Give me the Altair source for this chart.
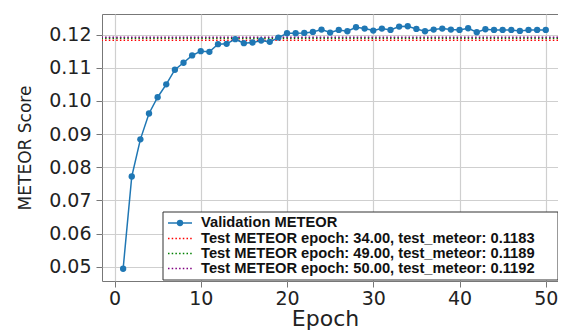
import altair as alt
import pandas as pd

epochs = list(range(1, 51))
val_meteor = [0.0494, 0.0772, 0.0884, 0.0962, 0.1011, 0.1050, 0.1094, 0.1115, 0.1137, 0.1150,
              0.1148, 0.1171, 0.1172, 0.1186, 0.1174, 0.1176, 0.1182, 0.1178, 0.1191, 0.1204,
              0.1204, 0.1205, 0.1208, 0.1215, 0.1206, 0.1214, 0.1210, 0.1222, 0.1218, 0.1212,
              0.1218, 0.1214, 0.1224, 0.1225, 0.1217, 0.1210, 0.1215, 0.1218, 0.1215, 0.1214,
              0.1219, 0.1207, 0.1216, 0.1214, 0.1214, 0.1214, 0.1211, 0.1214, 0.1214, 0.1214]
test_epochs = [34, 49, 50]
test_meteor = [0.1183, 0.1189, 0.1192]
test_colors = ["red", "green", "purple"]
x_ticks = [0, 10, 20, 30, 40, 50]
y_ticks = [0.05, 0.06, 0.07, 0.08, 0.09, 0.10, 0.11, 0.12]

val_df = pd.DataFrame({"epoch": epochs, "meteor": val_meteor})
labels = [f"Test METEOR epoch: {e:.2f}, test_meteor: {m:.4f}" for e, m in zip(test_epochs, test_meteor)]
test_df = pd.DataFrame({"epoch": test_epochs, "meteor": test_meteor, "label": labels, "color": test_colors})

FONT = "DejaVu Sans"
LFONT = "Liberation Sans"
BLUE = "#1f77b4"

PW = 456
xs = alt.Scale(domain=[-1.45, -1.45 + PW / 8.625], nice=False, zero=False)
ys = alt.Scale(domain=[0.0457, 0.1262], nice=False, zero=False)

x_axis = alt.Axis(values=x_ticks, format="d", title="Epoch", titleFontSize=22, titleFont=FONT,
                  titleFontWeight="normal", titleX=223, titleY=44, titleBaseline="alphabetic",
                  titleAlign="center", labelFontSize=19, labelFont=FONT, labelPadding=2,
                  labelColor="#222", titleColor="#222", labelOverlap=False, labelFlush=False)
y_axis = alt.Axis(values=y_ticks, format=".2f", title="METEOR Score", titleFontSize=17, titleFont=FONT,
                  titleFontWeight="normal", titleX=-72, titleY=133.5, titleAngle=-90,
                  titleBaseline="alphabetic", titleAlign="center", labelFontSize=19, labelFont=FONT,
                  labelPadding=5, labelColor="#222", titleColor="#222", labelOverlap=False,
                  labelFlush=False)

line = alt.Chart(val_df).mark_line(color=BLUE, strokeWidth=1.5).encode(
    x=alt.X("epoch:Q", scale=xs, axis=x_axis),
    y=alt.Y("meteor:Q", scale=ys, axis=y_axis),
)
pts = alt.Chart(val_df).mark_circle(color=BLUE, size=40, opacity=1).encode(
    x=alt.X("epoch:Q", scale=xs, axis=x_axis), y=alt.Y("meteor:Q", scale=ys, axis=y_axis)
)
rules = alt.Chart(test_df).mark_rule(strokeDash=[1.5, 2.2], strokeWidth=1.5).encode(
    y=alt.Y("meteor:Q", scale=ys, axis=y_axis),
    color=alt.Color("label:N", scale=alt.Scale(domain=labels, range=test_colors), legend=None),
)

one = pd.DataFrame({"a": [0]})
box = alt.Chart(one).mark_rect(fill="white", stroke="#333", strokeWidth=1).encode(
    x=alt.value(61), x2=alt.value(PW), y=alt.value(198), y2=alt.value(266)
)
legend_layers = [box]
row_y = [209, 224.5, 239.5, 254.5]
legend_layers.append(alt.Chart(one).mark_rule(color=BLUE, strokeWidth=1.5).encode(
    x=alt.value(66), x2=alt.value(90), y=alt.value(row_y[0])))
legend_layers.append(alt.Chart(one).mark_circle(color=BLUE, size=40, opacity=1).encode(
    x=alt.value(78), y=alt.value(row_y[0])))
legend_layers.append(alt.Chart(one).mark_text(text="Validation METEOR", font=LFONT, fontSize=14.7,
                                              fontWeight="bold", align="left", baseline="middle",
                                              color="#111").encode(x=alt.value(99), y=alt.value(row_y[0])))
for i, (lab, col) in enumerate(zip(labels, test_colors)):
    yy = row_y[i + 1]
    legend_layers.append(alt.Chart(one).mark_rule(color=col, strokeWidth=1.5, strokeDash=[1.5, 2.2]).encode(
        x=alt.value(66), x2=alt.value(90), y=alt.value(yy)))
    legend_layers.append(alt.Chart(one).mark_text(text=lab, font=LFONT, fontSize=14.7, fontWeight="bold",
                                                  align="left", baseline="middle", color="#111").encode(
        x=alt.value(99), y=alt.value(yy)))

chart = alt.layer(rules, line, pts, *legend_layers).properties(
    width=PW, height=267,
    padding={"left": 94, "top": 6, "right": 0, "bottom": 49},
    autosize=alt.AutoSizeParams(type="none"),
).configure_view(stroke="#777", strokeWidth=1).configure_axis(
    domain=False, grid=True, gridColor="#cfcfcf", gridWidth=1.2,
    tickColor="#777", tickSize=6, tickWidth=1, labelOverlap=False,
)

chart.save("out.html", embed_options={"renderer": "svg", "actions": False})
